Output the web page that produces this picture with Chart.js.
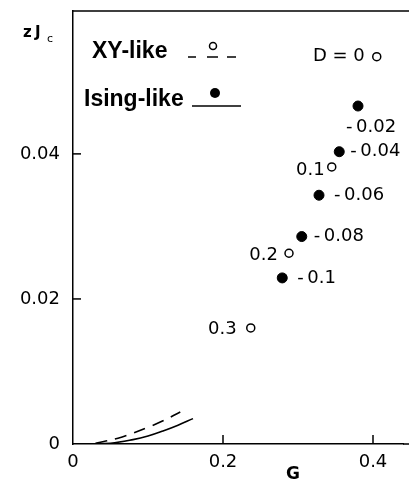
<!DOCTYPE html>
<html>
<head>
<meta charset="utf-8">
<script src="https://cdn.jsdelivr.net/npm/chart.js@4"></script>
<style>
  body { margin: 0; background: #fff; }
</style>
</head>
<body>
<canvas id="chart" width="409" height="481"></canvas>
<script>
// XY-like (open circles)
const xyG = [0.405, 0.345, 0.288, 0.237]
const xyZJ = [0.0534, 0.0382, 0.0263, 0.016]
const xyLabels = ['D = 0', '0.1', '0.2', '0.3']

// Ising-like (filled circles)
const isingG = [0.38, 0.355, 0.328, 0.305, 0.279]
const isingZJ = [0.0466, 0.0403, 0.0343, 0.0286, 0.0229]
const isingLabels = ['-0.02', '-0.04', '-0.06', '-0.08', '-0.1']

// small-G curves
const solidG = [0.02, 0.05, 0.08, 0.1, 0.12, 0.14, 0.16]
const solidZJ = [0, 0.0001, 0.0006, 0.0011, 0.0018, 0.0026, 0.0035]
const dashG = [0.03, 0.06, 0.08, 0.1, 0.12, 0.143]
const dashZJ = [0.0001, 0.0008, 0.0015, 0.0023, 0.0032, 0.0044]

const xTicks = [0, 0.2, 0.4]
const yTicks = [0, 0.02, 0.04]

// where the point labels sit relative to their marker (px)
const xyLabelPos = [[-12, 0, 'right'], [-7, 3, 'right'], [-11, 2, 'right'], [-14, 1, 'right']]
const isingLabelPos = [[-12, 21, 'left'], [11, 0, 'left'], [15, 0, 'left'], [12, 0, 'left'], [15, 0, 'left']]

function toPoints(xs, ys) {
  return xs.map((x, i) => ({ x: x, y: ys[i] }))
}

const numFont = '18px "DejaVu Sans"'

const decorations = {
  id: 'decorations',
  afterDraw(chart) {
    const ctx = chart.ctx
    const xs = chart.scales.x
    const ys = chart.scales.y
    const area = chart.chartArea
    ctx.save()
    ctx.strokeStyle = '#000'
    ctx.fillStyle = '#000'
    ctx.lineWidth = 1.5

    // frame: top line, and both lines run on to the right edge
    ctx.beginPath()
    ctx.moveTo(area.left, area.top)
    ctx.lineTo(chart.width, area.top)
    ctx.moveTo(area.right, area.bottom)
    ctx.lineTo(chart.width, area.bottom)
    ctx.stroke()

    // inward tick marks
    xTicks.slice(1).forEach(v => {
      const px = xs.getPixelForValue(v)
      ctx.beginPath()
      ctx.moveTo(px, area.bottom)
      ctx.lineTo(px, area.bottom - 9)
      ctx.stroke()
    })
    yTicks.slice(1).forEach(v => {
      const py = ys.getPixelForValue(v)
      ctx.beginPath()
      ctx.moveTo(area.left, py)
      ctx.lineTo(area.left + 8, py)
      ctx.stroke()
    })

    // point labels
    ctx.font = numFont
    ctx.textBaseline = 'middle'
    xyG.forEach((g, i) => {
      const p = xyLabelPos[i]
      ctx.textAlign = p[2]
      ctx.fillText(xyLabels[i], xs.getPixelForValue(g) + p[0], ys.getPixelForValue(xyZJ[i]) + p[1])
    })
    isingG.forEach((g, i) => {
      const p = isingLabelPos[i]
      ctx.textAlign = p[2]
      ctx.fillText(isingLabels[i].replace('-', '-\u2009'), xs.getPixelForValue(g) + p[0], ys.getPixelForValue(isingZJ[i]) + p[1])
    })

    // legend
    ctx.font = 'bold 23px "Liberation Sans"'
    ctx.textAlign = 'left'
    ctx.textBaseline = 'alphabetic'
    ctx.fillText('XY-like', 92, 58)
    ctx.fillText('Ising-like', 84, 106)
    ctx.lineWidth = 1.5
    ;[[188, 196], [207, 218], [227, 236]].forEach(s => {
      ctx.beginPath()
      ctx.moveTo(s[0], 57)
      ctx.lineTo(s[1], 57)
      ctx.stroke()
    })
    ctx.beginPath()
    ctx.arc(213, 46, 3.5, 0, Math.PI * 2)
    ctx.stroke()
    ctx.beginPath()
    ctx.moveTo(192, 106)
    ctx.lineTo(241, 106)
    ctx.stroke()
    ctx.beginPath()
    ctx.arc(215, 93, 5, 0, Math.PI * 2)
    ctx.fill()

    // axis titles
    ctx.font = 'bold 15px "DejaVu Sans"'
    ctx.fillText('z', 23, 37)
    ctx.fillText('J', 35, 37)
    ctx.font = '11px "DejaVu Sans"'
    ctx.fillText('c', 47, 42)
    ctx.font = 'bold 17px "DejaVu Sans"'
    ctx.textAlign = 'center'
    ctx.fillText('G', 293, 479)
    ctx.restore()
  }
}

new Chart(document.getElementById('chart'), {
  type: 'scatter',
  data: {
    datasets: [
      {
        label: 'XY-like',
        data: toPoints(xyG, xyZJ),
        pointStyle: 'circle',
        pointRadius: 4,
        pointBorderWidth: 1.5,
        borderColor: '#000',
        backgroundColor: '#fff'
      },
      {
        label: 'Ising-like',
        data: toPoints(isingG, isingZJ),
        pointRadius: 5,
        borderColor: '#000',
        backgroundColor: '#000'
      },
      {
        label: 'XY curve',
        data: toPoints(dashG, dashZJ),
        showLine: true,
        pointRadius: 0,
        borderColor: '#000',
        borderWidth: 1.6,
        borderDash: [12, 8],
        tension: 0.4
      },
      {
        label: 'Ising curve',
        data: toPoints(solidG, solidZJ),
        showLine: true,
        pointRadius: 0,
        borderColor: '#000',
        borderWidth: 1.6,
        tension: 0.4
      }
    ]
  },
  options: {
    responsive: false,
    animation: false,
    layout: { padding: { top: 11, right: 0, left: 0, bottom: 0 } },
    plugins: { legend: { display: false }, tooltip: { enabled: false } },
    scales: {
      x: {
        type: 'linear',
        min: 0,
        max: 0.44,
        afterBuildTicks: s => { s.ticks = xTicks.map(v => ({ value: v })) },
        afterFit: s => { s.height = 37; s.paddingLeft = 0; s.paddingRight = 0 },
        grid: { display: false, drawTicks: false },
        border: { display: true, color: '#000', width: 1.5 },
        ticks: {
          padding: 8,
          color: '#000',
          font: { family: 'DejaVu Sans', size: 18 },
          maxRotation: 0,
          callback: v => v === 0 ? '0' : v.toFixed(1)
        }
      },
      y: {
        type: 'linear',
        min: 0,
        max: 0.0597,
        afterBuildTicks: s => { s.ticks = yTicks.map(v => ({ value: v })) },
        afterFit: s => { s.width = 73; s.paddingTop = 0; s.paddingBottom = 0 },
        grid: { display: false, drawTicks: false },
        border: { display: true, color: '#000', width: 1.5 },
        ticks: {
          padding: 13,
          color: '#000',
          font: { family: 'DejaVu Sans', size: 18 },
          callback: v => v === 0 ? '0' : v.toFixed(2)
        }
      }
    }
  },
  plugins: [decorations]
})
</script>
</body>
</html>
